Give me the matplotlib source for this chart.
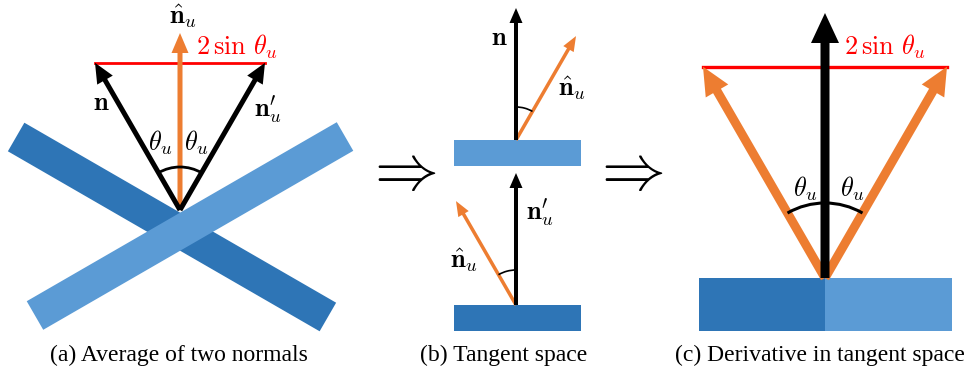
import numpy as np
import matplotlib
matplotlib.use('Agg')
import matplotlib.pyplot as plt
from matplotlib.patches import Polygon, Rectangle, FancyArrow, Arc

plt.rcParams['mathtext.fontset'] = 'cm'

DARK = '#2E75B6'
LIGHT = '#5B9BD5'
ORANGE = '#ED7D31'
RED = '#FF0000'

# geometry, in pixels of the canvas (y grows downward)
THETA = 30.0                       # half angle between the normals (deg)
A_APEX = (180, 210)                # panel (a): where the normals start
A_BAR_LEN = [360, 358]             # dark bar, light bar
A_BAR_WIDTH = 33
A_BAR_MID = [(172, 227), (190, 226)]
A_NORMAL_LEN = 170
A_AVG_LEN = 177

B_BARS = [(454, 140, 127, 26), (454, 305, 127, 26)]   # x, y, w, h
B_BASE_X = 516
B_NORMAL_LEN = 132
B_TILT_LEN = 120

C_BASE = (825, 278)
C_RECT = (699, 278, 253, 53)
C_NORMAL_LEN = 265
C_TILT_LEN = 244

CAPTIONS = ['(a) Average of two normals', '(b) Tangent space',
            '(c) Derivative in tangent space']
CAPTION_X = [179, 504, 820]

FS = 19   # math label size


def direction(deg_from_up):
    a = np.radians(deg_from_up)
    return np.sin(a), -np.cos(a)


def arrow(ax, x, y, length, deg, color, w, hw, hl, z=3):
    ux, uy = direction(deg)
    ax.add_patch(FancyArrow(x, y, ux * length, uy * length, width=w,
                            head_width=hw, head_length=hl,
                            length_includes_head=True, color=color,
                            lw=0, zorder=z))


def bar(ax, mid, length, width, deg, color, z):
    # rotated rectangle centred on mid, deg measured from +x (screen, downward positive)
    a = np.radians(deg)
    u = np.array([np.cos(a), np.sin(a)]) * length / 2
    n = np.array([-np.sin(a), np.cos(a)]) * width / 2
    c = np.array(mid)
    pts = [c - u - n, c + u - n, c + u + n, c - u + n]
    ax.add_patch(Polygon(pts, closed=True, color=color, lw=0, zorder=z))


def label(ax, x, y, s, color='black'):
    ax.text(x, y, s, fontsize=FS, color=color, ha='center', va='center', zorder=6)


fig = plt.figure(figsize=(9.7, 3.75), dpi=100)
ax = fig.add_axes([0, 0, 1, 1])
ax.set_xlim(0, 970)
ax.set_ylim(375, 0)
ax.set_aspect('equal')
ax.axis('off')

# ═══ (a) ═══
bar(ax, A_BAR_MID[0], A_BAR_LEN[0], A_BAR_WIDTH, THETA, DARK, 1)
bar(ax, A_BAR_MID[1], A_BAR_LEN[1], A_BAR_WIDTH, -THETA, LIGHT, 2)

ax0, ay0 = A_APEX
tip_l = np.array(direction(-THETA)) * A_NORMAL_LEN + A_APEX
tip_r = np.array(direction(THETA)) * A_NORMAL_LEN + A_APEX
ax.plot([tip_l[0], tip_r[0]], [tip_l[1], tip_r[1]], color=RED, lw=2, zorder=3)
arrow(ax, ax0, ay0, A_AVG_LEN, 0, ORANGE, 5, 17, 20, z=4)
arrow(ax, ax0, ay0, A_NORMAL_LEN, -THETA, 'black', 5, 18, 20, z=5)
arrow(ax, ax0, ay0, A_NORMAL_LEN, THETA, 'black', 5, 18, 20, z=5)
ax.add_patch(Arc(A_APEX, 86, 86, theta1=270 - THETA, theta2=270 + THETA,
                 color='black', lw=2, zorder=5))
label(ax, 183, 16, r'$\hat{\mathbf{n}}_u$')
label(ax, 237, 47, r'$2\,\sin\,\theta_u$', RED)
label(ax, 101, 103, r'$\mathbf{n}$')
label(ax, 268, 110, r"$\mathbf{n}^{\prime}_u$")
label(ax, 160, 143, r'$\theta_u$')
label(ax, 196, 143, r'$\theta_u$')

# ═══ (b) ═══
ax.add_patch(Rectangle(B_BARS[0][:2], *B_BARS[0][2:], color=LIGHT, lw=0))
ax.add_patch(Rectangle(B_BARS[1][:2], *B_BARS[1][2:], color=DARK, lw=0))
top_y, bot_y = B_BARS[0][1], B_BARS[1][1]
arrow(ax, B_BASE_X, top_y, B_TILT_LEN, THETA, ORANGE, 3.5, 12, 15)
arrow(ax, B_BASE_X, top_y, B_NORMAL_LEN, 0, 'black', 4, 13, 15, z=4)
arrow(ax, B_BASE_X, bot_y, B_TILT_LEN, -THETA, ORANGE, 3.5, 12, 15)
arrow(ax, B_BASE_X, bot_y, B_NORMAL_LEN, 0, 'black', 4, 13, 15, z=4)
ax.add_patch(Arc((B_BASE_X, top_y), 66, 66, theta1=270, theta2=270 + THETA,
                 color='black', lw=1.2, zorder=5))
ax.add_patch(Arc((B_BASE_X, bot_y), 70, 70, theta1=270 - THETA, theta2=270,
                 color='black', lw=1.2, zorder=5))
label(ax, 499, 38, r'$\mathbf{n}$')
label(ax, 572, 88, r'$\hat{\mathbf{n}}_u$')
label(ax, 540, 213, r"$\mathbf{n}^{\prime}_u$")
label(ax, 464, 260, r'$\hat{\mathbf{n}}_u$')

# implication signs
for x in [400, 627]:
    ax.text(x, 172, r'$\Rightarrow$', fontsize=46, ha='center', va='center')

# ═══ (c) ═══
cx, cy = C_BASE
ax.add_patch(Rectangle(C_RECT[:2], C_RECT[2] / 2, C_RECT[3], color=DARK, lw=0))
ax.add_patch(Rectangle((C_RECT[0] + C_RECT[2] / 2, C_RECT[1]), C_RECT[2] / 2,
                       C_RECT[3], color=LIGHT, lw=0))
tl = np.array(direction(-THETA)) * C_TILT_LEN + C_BASE
tr = np.array(direction(THETA)) * C_TILT_LEN + C_BASE
ax.plot([tl[0], tr[0]], [tl[1], tr[1]], color=RED, lw=2.4, zorder=2)
arrow(ax, cx, cy, C_TILT_LEN, -THETA, ORANGE, 9, 26, 28, z=3)
arrow(ax, cx, cy, C_TILT_LEN, THETA, ORANGE, 9, 26, 28, z=3)
arrow(ax, cx, cy, C_NORMAL_LEN, 0, 'black', 9, 28, 30, z=4)
ax.add_patch(Arc(C_BASE, 150, 150, theta1=270 - THETA, theta2=270 + THETA,
                 color='black', lw=2.2, zorder=5))
label(ax, 885, 47, r'$2\,\sin\,\theta_u$', RED)
label(ax, 805, 189, r'$\theta_u$')
label(ax, 852, 189, r'$\theta_u$')

for x, s in zip(CAPTION_X, CAPTIONS):
    ax.text(x, 355, s, fontsize=17, family='Liberation Serif',
            ha='center', va='center')

fig.savefig('out.png', dpi=100)
